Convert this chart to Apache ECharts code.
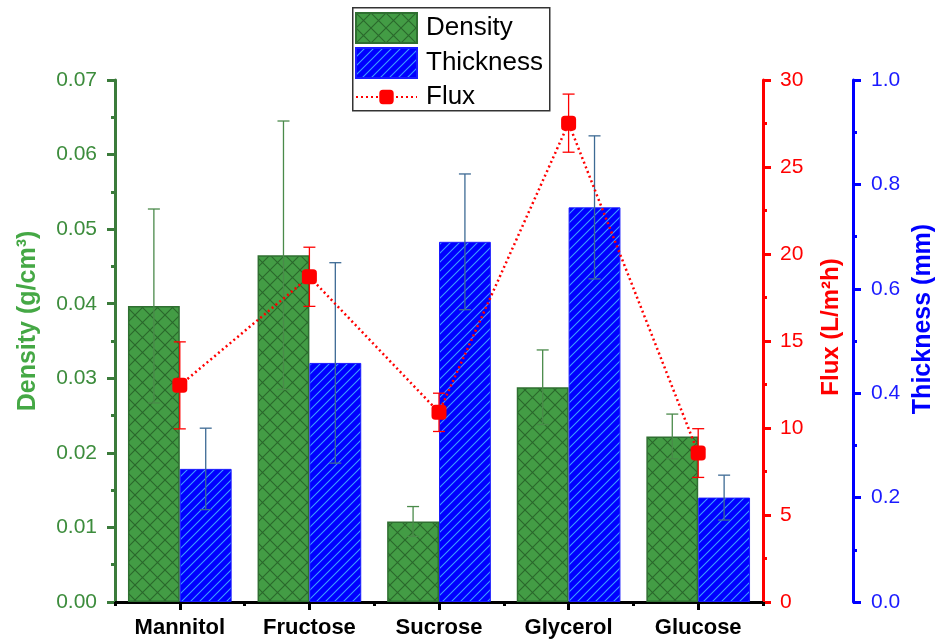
<!DOCTYPE html>
<html>
<head>
<meta charset="utf-8">
<script src="https://cdn.jsdelivr.net/npm/echarts@6/dist/echarts.min.js"></script>
<style>html,body{margin:0;padding:0;background:#fff;}#c{width:935px;height:643px;}</style>
</head>
<body>
<div id="c"></div>
<script>
const categories = ['Mannitol', 'Fructose', 'Sucrose', 'Glycerol', 'Glucose'];
const density = [0.0397, 0.0465, 0.0108, 0.0288, 0.0222];
const densityErr = [0.013, 0.018, 0.002, 0.005, 0.003];
const thickness = [0.255, 0.458, 0.690, 0.756, 0.200];
const thicknessErr = [0.078, 0.192, 0.130, 0.137, 0.043];
const flux = [12.45, 18.69, 10.9, 27.52, 8.56];
const fluxErr = [2.5, 1.7, 1.1, 1.67, 1.4];
const densityTicks = [0, 0.07, 0.01];
const fluxTicks = [0, 30, 5];
const thicknessTicks = [0, 1.0, 0.2];

const FONT = 'Arial, "Liberation Sans", sans-serif';

function makeCross() {
  const s = 15, c = document.createElement('canvas');
  c.width = s; c.height = s;
  const g = c.getContext('2d');
  g.fillStyle = '#439c45'; g.fillRect(0, 0, s, s);
  g.strokeStyle = '#2a672c'; g.lineWidth = 1.1;
  g.beginPath();
  g.moveTo(0, 0); g.lineTo(s, s);
  g.moveTo(s, 0); g.lineTo(0, s);
  g.stroke();
  return c;
}
function makeDiag() {
  const s = 9, c = document.createElement('canvas');
  c.width = s; c.height = s;
  const g = c.getContext('2d');
  g.fillStyle = '#0000ff'; g.fillRect(0, 0, s, s);
  g.strokeStyle = '#3d9dff'; g.lineWidth = 1.1;
  g.beginPath();
  g.moveTo(-1, s + 1); g.lineTo(s + 1, -1);
  g.moveTo(-1, 1); g.lineTo(1, -1);
  g.moveTo(s - 1, s + 1); g.lineTo(s + 1, s - 1);
  g.stroke();
  return c;
}
const crossPattern = { image: makeCross(), repeat: 'repeat' };
const diagPattern = { image: makeDiag(), repeat: 'repeat' };

function errRender(offsetFrac, color, cap, lw) {
  return function (params, api) {
    const x = api.value(0), lo = api.value(1), hi = api.value(2);
    const pLo = api.coord([x, lo]), pHi = api.coord([x, hi]);
    const band = api.size([1, 0])[0];
    const cx = pLo[0] + band * offsetFrac;
    const hw = cap / 2;
    const st = { stroke: color, lineWidth: lw };
    return {
      type: 'group', children: [
        { type: 'line', shape: { x1: cx, y1: pHi[1], x2: cx, y2: pLo[1] }, style: st },
        { type: 'line', shape: { x1: cx - hw, y1: pHi[1], x2: cx + hw, y2: pHi[1] }, style: st },
        { type: 'line', shape: { x1: cx - hw, y1: pLo[1], x2: cx + hw, y2: pLo[1] }, style: st }
      ]
    };
  };
}
function errData(vals, errs) {
  return vals.map((v, i) => [i, v - errs[i], v + errs[i]]);
}

const chart = echarts.init(document.getElementById('c'), null, { renderer: 'canvas' });
const option = {
  backgroundColor: '#ffffff',
  animation: false,
  textStyle: { fontFamily: FONT },
  grid: { left: 115, right: 172, top: 80, bottom: 41, containLabel: false, outerBoundsMode: 'none' },
  graphic: [{
    type: 'rect', left: 352, top: 7, z: 10,
    shape: { width: 197, height: 103 },
    style: { fill: 'rgba(0,0,0,0)', stroke: '#333', lineWidth: 1.5 }
  }],
  legend: [{
    data: [{ name: 'Density', icon: 'rect' }, { name: 'Thickness', icon: 'rect' }],
    orient: 'vertical', left: 355, top: 12, padding: 0,
    itemWidth: 61, itemHeight: 30, itemGap: 3,
    textStyle: { fontSize: 26, color: '#000', fontFamily: FONT, padding: [0, 0, 0, 4] },
    selectedMode: false
  }, {
    data: ['Flux'],
    orient: 'vertical', left: 355, top: 84, padding: 0,
    itemWidth: 61, itemHeight: 18, itemGap: 3,
    textStyle: { fontSize: 26, color: '#000', fontFamily: FONT, padding: [0, 0, 0, 4] },
    selectedMode: false
  }],
  xAxis: [{
    type: 'category', data: categories, position: 'bottom',
    axisLine: { show: true, lineStyle: { color: '#000', width: 3 } },
    axisTick: { show: true, alignWithLabel: true, length: 8, lineStyle: { color: '#000', width: 3 } },
    axisLabel: { fontSize: 22, fontWeight: 'bold', color: '#000', margin: 15, fontFamily: FONT },
    splitLine: { show: false }
  }, {
    type: 'category', data: categories, position: 'bottom',
    axisLine: { show: false },
    axisTick: { show: true, length: 4, lineStyle: { color: '#000', width: 3 } },
    axisLabel: { show: false },
    splitLine: { show: false }
  }],
  yAxis: [{
    type: 'value', position: 'left',
    min: densityTicks[0], max: densityTicks[1], interval: densityTicks[2],
    name: 'Density (g/cm³)', nameLocation: 'middle', nameRotate: 90, nameGap: 74,
    nameTextStyle: { color: '#45a845', fontSize: 25, fontWeight: 'bold', fontFamily: FONT, padding: [0, 0, 0, 40] },
    axisLine: { show: true, lineStyle: { color: '#3b7b3b', width: 3 } },
    axisTick: { show: true, length: 8, lineStyle: { color: '#3b7b3b', width: 3 } },
    minorTick: { show: true, splitNumber: 2, length: 4, lineStyle: { color: '#3b7b3b', width: 3 } },
    axisLabel: { fontSize: 21, color: '#3c8c3c', margin: 18, formatter: v => v.toFixed(2), fontFamily: FONT },
    splitLine: { show: false }
  }, {
    type: 'value', position: 'right', offset: 0,
    min: fluxTicks[0], max: fluxTicks[1], interval: fluxTicks[2],
    name: 'Flux (L/m²h)', nameLocation: 'middle', nameRotate: 90, nameGap: 56,
    nameTextStyle: { color: '#ff0000', fontSize: 24, fontWeight: 'bold', fontFamily: FONT, padding: [0, 0, 0, 28] },
    axisLine: { show: true, lineStyle: { color: '#ff0000', width: 3 } },
    axisTick: { show: true, length: 8, lineStyle: { color: '#ff0000', width: 3 } },
    minorTick: { show: true, splitNumber: 2, length: 4, lineStyle: { color: '#ff0000', width: 3 } },
    axisLabel: { fontSize: 21, color: '#ff0000', margin: 17, fontFamily: FONT },
    splitLine: { show: false }
  }, {
    type: 'value', position: 'right', offset: 90,
    min: thicknessTicks[0], max: thicknessTicks[1], interval: thicknessTicks[2],
    name: 'Thickness (mm)', nameLocation: 'middle', nameRotate: 90, nameGap: 58,
    nameTextStyle: { color: '#0000ff', fontSize: 25, fontWeight: 'bold', fontFamily: FONT, padding: [0, 0, 0, 44] },
    axisLine: { show: true, lineStyle: { color: '#0000ff', width: 3 } },
    axisTick: { show: true, length: 8, lineStyle: { color: '#0000ff', width: 3 } },
    minorTick: { show: true, splitNumber: 2, length: 4, lineStyle: { color: '#0000ff', width: 3 } },
    axisLabel: { fontSize: 21, color: '#1a1aff', margin: 18, formatter: v => v.toFixed(1), fontFamily: FONT },
    splitLine: { show: false }
  }],
  series: [{
    name: 'Density', type: 'bar', xAxisIndex: 0, yAxisIndex: 0, data: density,
    barWidth: '40%', barGap: '0%', barCategoryGap: '20%', z: 2,
    itemStyle: { color: crossPattern, borderColor: '#2f6f31', borderWidth: 1.5 }
  }, {
    name: 'Thickness', type: 'bar', xAxisIndex: 0, yAxisIndex: 2, data: thickness,
    barWidth: '40%', barGap: '0%', barCategoryGap: '20%', z: 2,
    itemStyle: { color: diagPattern, borderColor: '#1a1aff', borderWidth: 1 }
  }, {
    name: 'densityErr', type: 'custom', xAxisIndex: 0, yAxisIndex: 0, z: 3,
    data: errData(density, densityErr), encode: { x: 0, y: [1, 2] },
    renderItem: errRender(-0.2, '#4a8a4a', 12, 1.3), silent: true
  }, {
    name: 'thicknessErr', type: 'custom', xAxisIndex: 0, yAxisIndex: 2, z: 3,
    data: errData(thickness, thicknessErr), encode: { x: 0, y: [1, 2] },
    renderItem: errRender(0.2, '#3d6a94', 12, 1.3), silent: true
  }, {
    name: 'fluxErr', type: 'custom', xAxisIndex: 0, yAxisIndex: 1, z: 4,
    data: errData(flux, fluxErr), encode: { x: 0, y: [1, 2] },
    renderItem: errRender(0, '#ff0000', 12, 1.3), silent: true
  }, {
    name: 'Flux', type: 'line', xAxisIndex: 0, yAxisIndex: 1, data: flux, z: 5,
    symbol: 'roundRect', symbolSize: 15,
    lineStyle: { color: '#ff0000', width: 2.5, type: [2, 3] },
    itemStyle: { color: '#ff0000' }
  }]
};
chart.setOption(option);
</script>
</body>
</html>
